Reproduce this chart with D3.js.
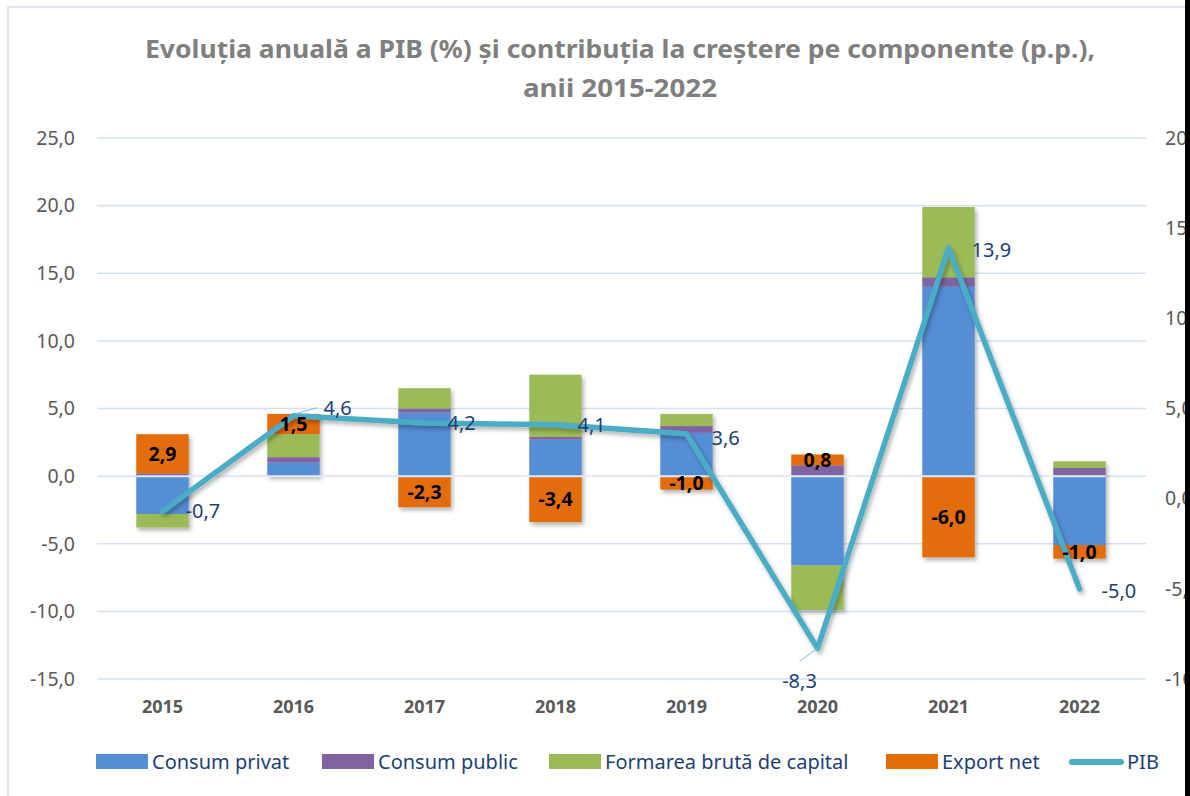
<!DOCTYPE html>
<html>
<head>
<meta charset="utf-8">
<script src="https://cdn.jsdelivr.net/npm/d3@7"></script>
<style>
  body{margin:0;background:#fff;}
  text{font-family:"Noto Sans",sans-serif;}
</style>
</head>
<body>
<div class="container"></div>
<script>
// values
const years=["2015","2016","2017","2018","2019","2020","2021","2022"];
const consumPrivat=[-2.8,1.0,4.7,2.7,3.2,-6.6,14.0,-5.1];
const consumPublic=[0.2,0.4,0.3,0.2,0.5,0.8,0.7,0.6];
const formarea=[-1.0,1.7,1.5,4.6,0.9,-3.3,5.2,0.5];
const exportNet=[2.9,1.5,-2.3,-3.4,-1.0,0.8,-6.0,-1.0];
const pib=[-0.7,4.6,4.2,4.1,3.6,-8.3,13.9,-5.0];
const leftTicks=[-15,-10,-5,0,5,10,15,20,25];
const rightTicks=[-10,-5,0,5,10,15,20];
const seriesNames=["Consum privat","Consum public","Formarea brută de capital","Export net"];
const seriesColors=["#558ED5","#8064A2","#9BBB59","#E36C09"];

const W=1190,H=796;
const svg=d3.select(".container").append("svg").attr("width",W).attr("height",H);

let defs=svg.append("defs");
let f=defs.append("filter").attr("id","shadow").attr("x","-20%").attr("y","-20%").attr("width","150%").attr("height","150%");
f.append("feDropShadow").attr("dx",2).attr("dy",3).attr("stdDeviation",2).attr("flood-color","#000").attr("flood-opacity",0.3);

// frame
svg.append("rect").attr("x",8).attr("y",7).attr("width",W).attr("height",H).attr("fill","none").attr("stroke","#D6E0EE").attr("stroke-width",1.5);

// title
let title=svg.append("text").attr("x",620).attr("text-anchor","middle").attr("fill","#7F7F7F").attr("font-weight","bold").attr("font-size",25);
title.append("tspan").attr("x",620).attr("y",58).attr("textLength",950).attr("lengthAdjust","spacingAndGlyphs")
  .text("Evoluția anuală a PIB (%) și contribuția la creștere pe componente (p.p.),");
title.append("tspan").attr("x",620).attr("y",97).attr("textLength",194).attr("lengthAdjust","spacingAndGlyphs")
  .text("anii 2015-2022");

let fmt=v=>v.toFixed(1).replace(".",",");

let x=d3.scaleBand().domain(years).range([97,1145]).paddingInner(0.6).paddingOuter(0.3);
let yL=d3.scaleLinear().domain([-15,25]).range([679,138]);
let yR=d3.scaleLinear().domain([-10,20]).range([679,138]);

// gridlines
svg.append("g").selectAll("line").data(leftTicks).enter().append("line")
  .attr("x1",97).attr("x2",1146).attr("y1",d=>yL(d)).attr("y2",d=>yL(d))
  .attr("stroke","#D5E1F3").attr("stroke-width",1.5);

// left axis
let axL=svg.append("g").attr("transform","translate(97,0)")
  .call(d3.axisLeft(yL).tickValues(leftTicks).tickFormat(fmt).tickSize(0).tickPadding(22));
axL.select(".domain").remove();
axL.selectAll("text").attr("font-size",19.5).attr("fill","#595959").attr("font-family","Noto Sans");

// right axis (cut by the picture edge, as in the source)
let axR=svg.append("g").attr("transform","translate(1146,0)")
  .call(d3.axisRight(yR).tickValues(rightTicks).tickFormat(fmt).tickSize(0).tickPadding(19));
axR.select(".domain").remove();
axR.selectAll("text").attr("font-size",19.5).attr("fill","#595959").attr("font-family","Noto Sans");

// x axis labels
let axX=svg.append("g").attr("transform","translate(0,697)")
  .call(d3.axisBottom(x).tickSize(0).tickPadding(3));
axX.select(".domain").remove();
axX.selectAll("text").attr("font-size",18).attr("font-weight","bold").attr("fill","#595959").attr("font-family","Noto Sans");

// stacked bars
let table=years.map((y,i)=>({year:y,s0:consumPrivat[i],s1:consumPublic[i],s2:formarea[i],s3:exportNet[i]}));
let stack=d3.stack().keys(["s0","s1","s2","s3"]).offset(d3.stackOffsetDiverging)(table);

let bars=svg.append("g").attr("filter","url(#shadow)");
stack.forEach((layer,k)=>{
  bars.append("g").attr("fill",seriesColors[k]).selectAll("rect").data(layer).enter().append("rect")
    .attr("x",d=>x(d.data.year)).attr("width",x.bandwidth())
    .attr("y",d=>yL(Math.max(d[0],d[1])))
    .attr("height",d=>Math.abs(yL(d[0])-yL(d[1])));
});

// zero line over the bars
svg.append("line").attr("x1",x(years[0])).attr("x2",x(years[7])+x.bandwidth())
  .attr("y1",yL(0)).attr("y2",yL(0)).attr("stroke","#E4EBF6").attr("stroke-width",2);

// PIB line
let cx=i=>x(years[i])+x.bandwidth()/2;
let line=d3.line().x((d,i)=>cx(i)).y(d=>yR(d));
svg.append("path").datum(pib).attr("d",line).attr("fill","none")
  .attr("stroke","#4BACC6").attr("stroke-width",5.5).attr("stroke-linejoin","round").attr("stroke-linecap","round")
  .attr("filter","url(#shadow)");

// export net labels, on top of the line
svg.append("g").selectAll("text").data(stack[3]).enter().append("text")
  .attr("x",d=>x(d.data.year)+x.bandwidth()/2)
  .attr("y",d=>(yL(d[0])+yL(d[1]))/2)
  .attr("dy","0.36em").attr("text-anchor","middle")
  .attr("font-size",19.5).attr("font-weight","bold").attr("fill","#000")
  .text(d=>fmt(d.data.s3));

// PIB labels
let offs=[[23,0,"start"],[30,-8,"start"],[23,0,"start"],[22,0,"start"],[25,4,"start"],[-18,32,"middle"],[23,2,"start"],[22,2,"start"]];
let lab=svg.append("g");
pib.forEach((v,i)=>{
  lab.append("text").attr("x",cx(i)+offs[i][0]).attr("y",yR(v)+offs[i][1]).attr("dy","0.36em")
    .attr("text-anchor",offs[i][2]).attr("font-size",20).attr("fill","#1F3F73").text(fmt(v));
});
// leader lines
lab.append("line").attr("x1",cx(1)+2).attr("y1",yR(pib[1])-2).attr("x2",cx(1)+24).attr("y2",yR(pib[1])-8)
  .attr("stroke","#8EB4E3").attr("stroke-width",1);
lab.append("line").attr("x1",cx(5)).attr("y1",yR(pib[5])).attr("x2",cx(5)-18).attr("y2",yR(pib[5])+13)
  .attr("stroke","#8EB4E3").attr("stroke-width",1);

// legend
let leg=svg.append("g").attr("font-size",20).attr("fill","#1F3F73");
let legX=[96,322,549,886];
seriesNames.forEach((n,k)=>{
  leg.append("rect").attr("x",legX[k]).attr("y",754).attr("width",52).attr("height",15).attr("fill",seriesColors[k]);
  leg.append("text").attr("x",legX[k]+56).attr("y",762).attr("dy","0.36em").attr("fill","#1F3F73").text(n);
});
leg.append("line").attr("x1",1072).attr("x2",1121).attr("y1",762).attr("y2",762)
  .attr("stroke","#4BACC6").attr("stroke-width",6).attr("stroke-linecap","round");
leg.append("text").attr("x",1127).attr("y",762).attr("dy","0.36em").attr("fill","#1F3F73").text("PIB");

// dark edge at right of the picture
svg.append("rect").attr("x",1185).attr("y",0).attr("width",5).attr("height",H).attr("fill","#000");
</script>
</body>
</html>
